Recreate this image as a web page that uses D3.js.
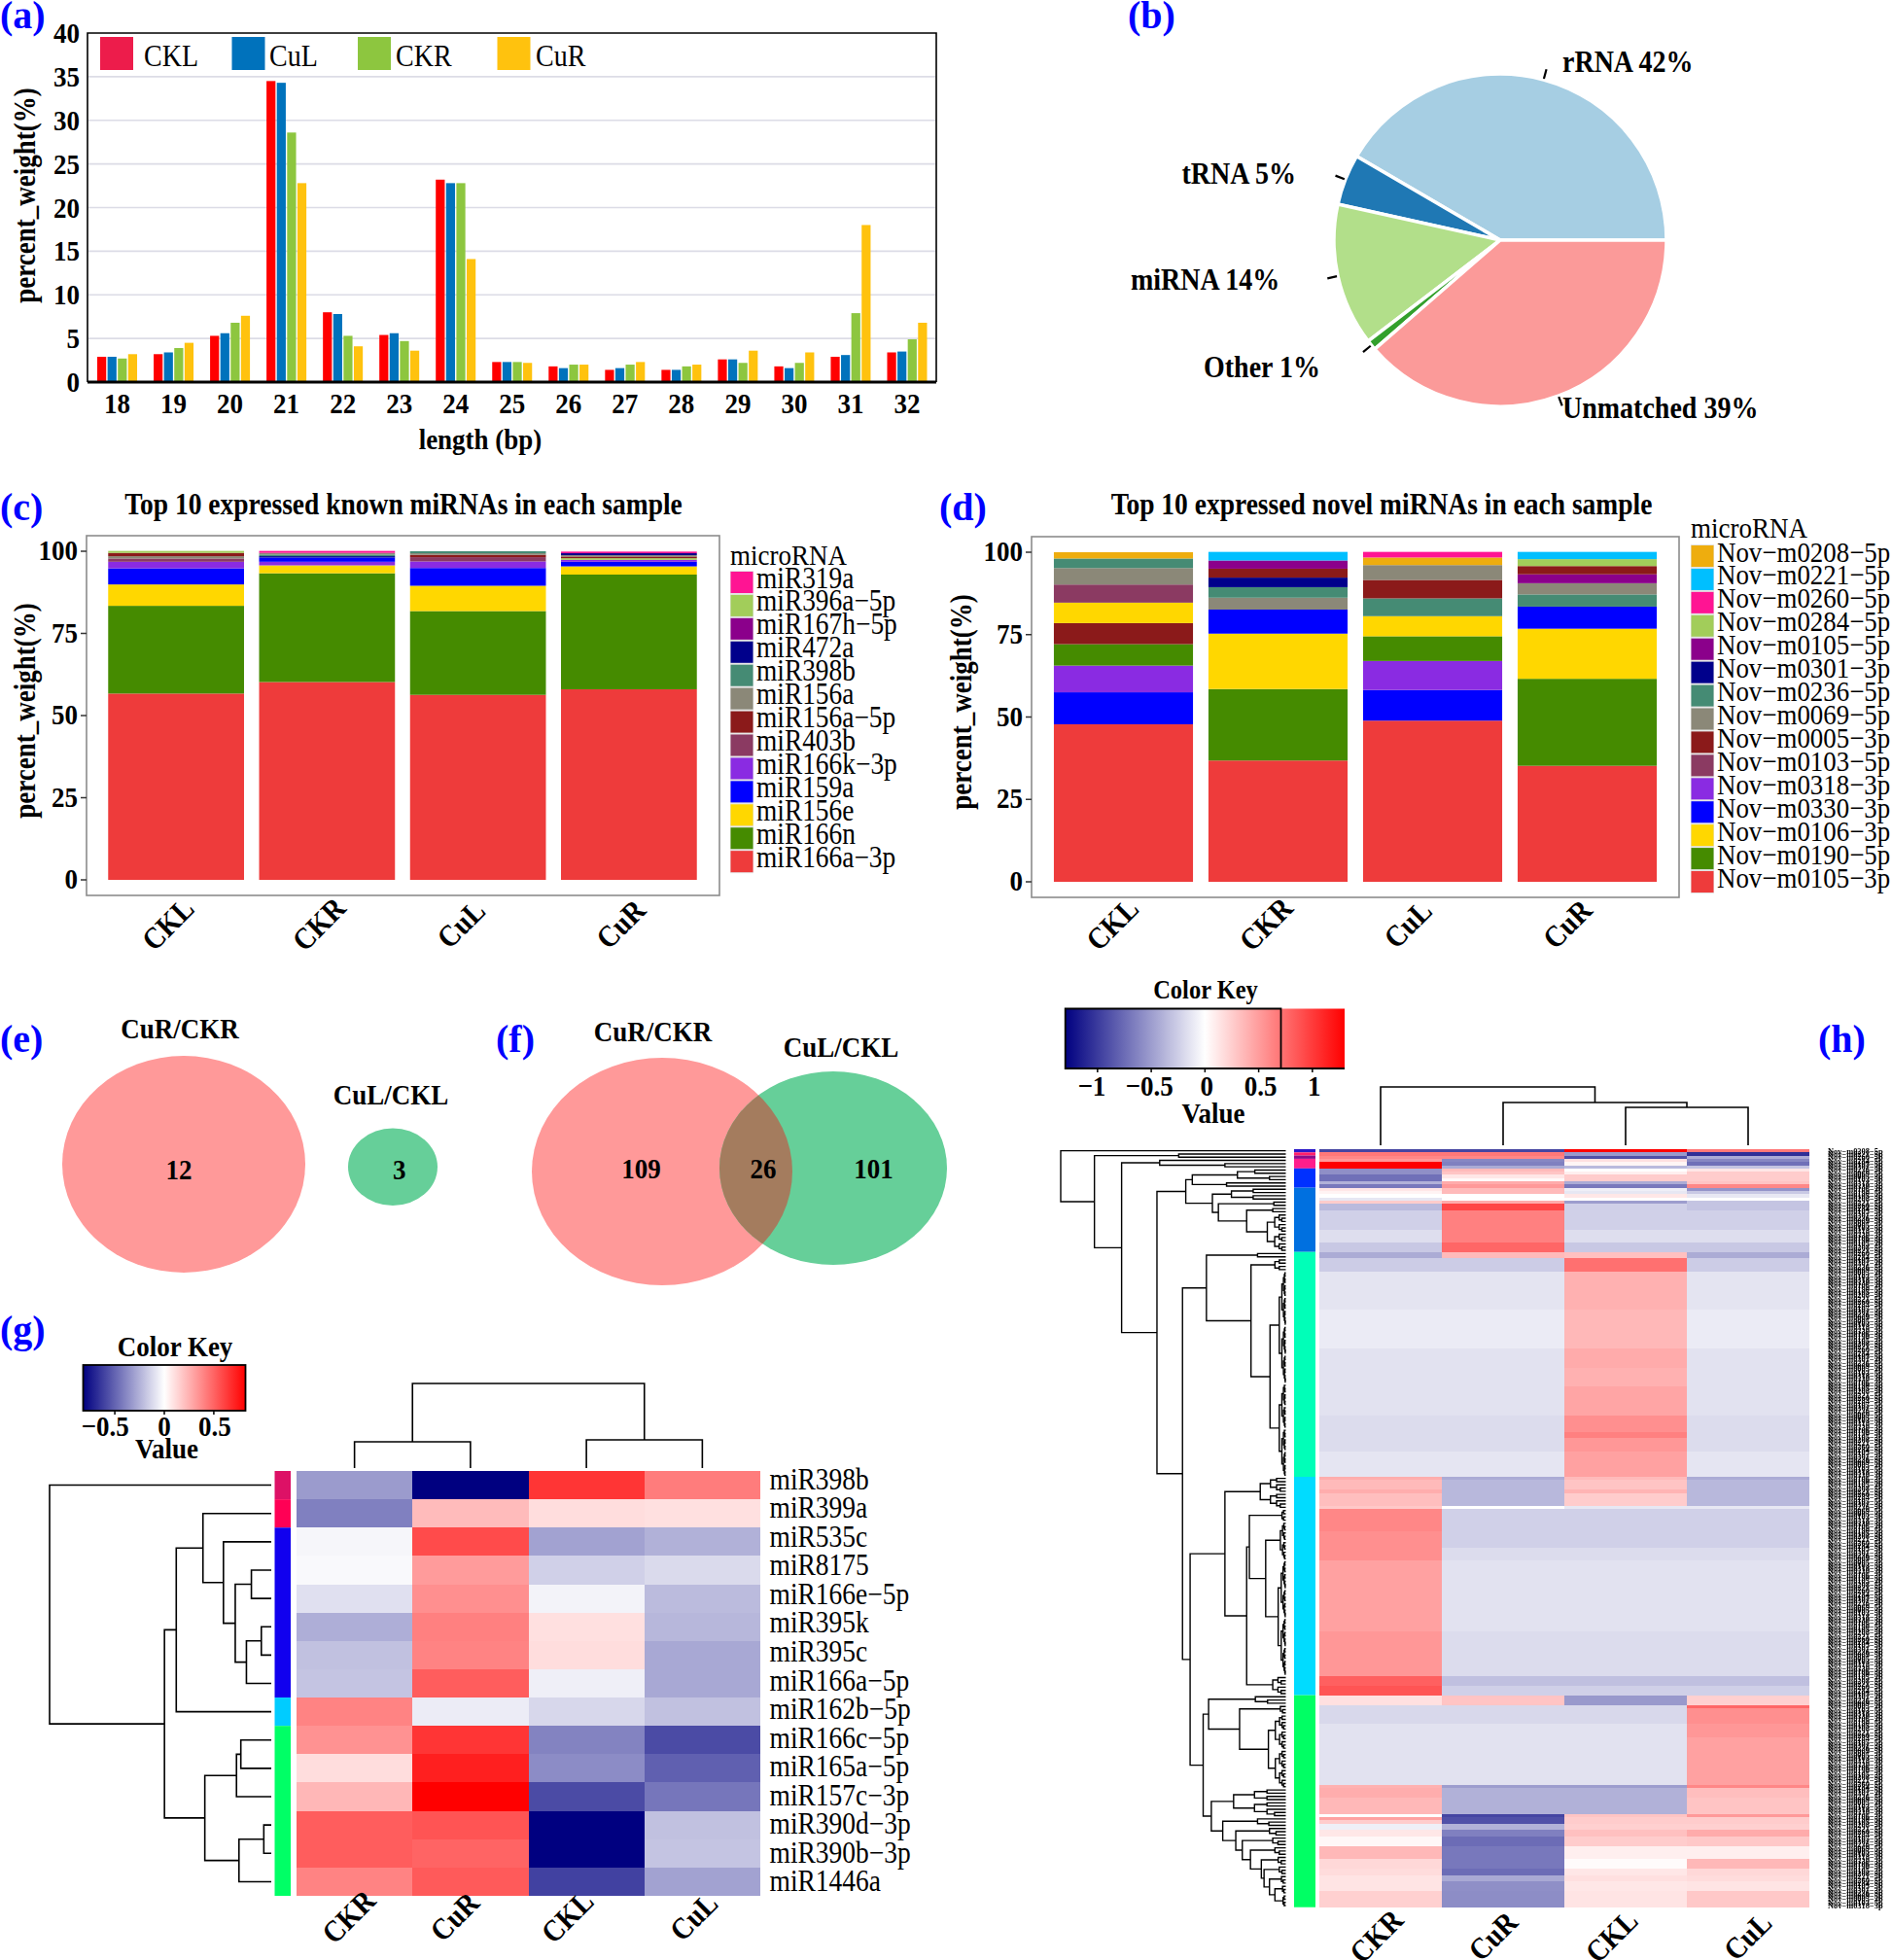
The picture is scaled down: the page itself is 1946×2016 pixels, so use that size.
<!DOCTYPE html>
<html><head><meta charset="utf-8">
<script src="https://cdn.jsdelivr.net/npm/d3@7"></script>
<style>html,body{margin:0;padding:0;background:#fff}svg{display:block}text{font-family:'Liberation Serif',serif}</style>
</head><body><svg id="c" width="1946" height="2016"></svg>
<script>
// ---------- (a) length distribution
const lengths=[18,19,20,21,22,23,24,25,26,27,28,29,30,31,32];
const groupsA=['CKL','CuL','CKR','CuR'];
const valCKL=[2.9,3.2,5.3,34.5,8.0,5.4,23.2,2.3,1.8,1.4,1.4,2.6,1.8,2.9,3.4];
const valCuL=[2.9,3.4,5.6,34.3,7.8,5.6,22.8,2.3,1.6,1.6,1.4,2.6,1.6,3.1,3.5];
const valCKR=[2.7,3.9,6.8,28.6,5.3,4.7,22.8,2.3,2.0,2.0,1.8,2.2,2.2,7.9,4.9];
const valCuR=[3.2,4.5,7.6,22.8,4.1,3.6,14.1,2.2,2.0,2.3,2.0,3.6,3.4,18.0,6.8];
const yTicksA=[0,5,10,15,20,25,30,35,40];
const barColA=['#FF0000','#0072BC','#8DC63F','#FFC20E'];
const swatchColA=['#ED1C4B','#0072BC','#8DC63F','#FFC20E'];
// ---------- (b) pie
const pieLabels=['rRNA 42%','tRNA 5%','miRNA 14%','Other 1%','Unmatched 39%'];
const pieVals=[42,5,14,1,39];
const pieCols=['#A6CEE3','#1F78B4','#B2DF8A','#33A02C','#FB9A99'];
// ---------- (c) known miRNA stacks: names bottom-to-top with values, per sample
const knownLegend=['miR319a','miR396a−5p','miR167h−5p','miR472a','miR398b','miR156a','miR156a−5p','miR403b','miR166k−3p','miR159a','miR156e','miR166n','miR166a−3p'];
const knownCols=['#FF1493','#A2CD5A','#8B008B','#00008B','#458B74','#8B8878','#8B1A1A','#8B3A62','#8A2BE2','#0000FF','#FFD700','#458B00','#EE3B3B'];
const samplesC=['CKL','CKR','CuL','CuR'];
const kCKLn=['miR166a−3p','miR166n','miR156e','miR159a','miR166k−3p','miR403b','miR156a','miR156a−5p','miR396a−5p'];
const kCKLv=[56.7,26.7,6.5,4.9,2.0,1.0,0.7,1.0,0.6];
const kCKRn=['miR166a−3p','miR166n','miR156e','miR166k−3p','miR159a','miR472a','miR398b','miR156a','miR319a'];
const kCKRv=[60.2,33.1,2.4,1.1,1.3,0.4,0.5,0.5,0.6];
const kCuLn=['miR166a−3p','miR166n','miR156e','miR159a','miR166k−3p','miR403b','miR156a−5p','miR156a','miR398b'];
const kCuLv=[56.3,25.5,7.7,5.4,2.0,1.3,0.7,0.5,0.6];
const kCuRn=['miR166a−3p','miR166n','miR156e','miR159a','miR166k−3p','miR396a−5p','miR156a−5p','miR156a','miR472a','miR319a'];
const kCuRv=[58.0,34.9,2.5,1.4,0.6,0.5,0.5,0.4,0.6,0.5];
// ---------- (d) novel miRNA stacks
const novelLegend=['Nov−m0208−5p','Nov−m0221−5p','Nov−m0260−5p','Nov−m0284−5p','Nov−m0105−5p','Nov−m0301−3p','Nov−m0236−5p','Nov−m0069−5p','Nov−m0005−3p','Nov−m0103−5p','Nov−m0318−3p','Nov−m0330−3p','Nov−m0106−3p','Nov−m0190−5p','Nov−m0105−3p'];
const novelCols=['#EEAD0E','#00BFFF','#FF1493','#A2CD5A','#8B008B','#00008B','#458B74','#8B8878','#8B1A1A','#8B3A62','#8A2BE2','#0000FF','#FFD700','#458B00','#EE3B3B'];
const nCKLn=[14,11,10,13,8,12,9,7,6,0];
const nCKLv=[47.8,9.7,8.1,6.5,6.4,6.2,5.5,5.0,2.9,1.9];
const nCKRn=[14,13,12,11,7,6,5,8,4,1];
const nCKRv=[36.8,21.7,16.8,7.3,3.6,3.2,2.9,2.7,2.5,2.6];
const nCuLn=[14,11,10,13,12,6,8,7,0,2];
const nCuLv=[48.9,9.3,8.8,7.5,6.1,5.4,5.6,4.5,2.3,1.7];
const nCuRn=[14,13,12,11,6,7,4,8,3,1];
const nCuRv=[35.2,26.4,15.2,6.7,3.7,3.4,2.7,2.5,2.1,2.2];
const yTicksStack=[0,25,50,75,100];
// ---------- (e)(f) Venn counts
const vennE=[12,3];
const vennF=[109,26,101];
// ---------- (g) heat map
const gRows=['miR398b','miR399a','miR535c','miR8175','miR166e−5p','miR395k','miR395c','miR166a−5p','miR162b−5p','miR166c−5p','miR165a−5p','miR157c−3p','miR390d−3p','miR390b−3p','miR1446a'];
const gCols=['CKR','CuR','CKL','CuL'];
const gCKR=[-.32,-.41,-.03,-.02,-.10,-.26,-.20,-.19,.40,.35,.11,.23,.52,.52,.40];
const gCuR=[-.82,.22,.58,.32,.36,.41,.40,.52,-.06,.65,.72,.82,.55,.50,.53];
const gCKL=[.65,.11,-.30,-.15,-.04,.10,.11,-.05,-.13,-.40,-.37,-.58,-.82,-.82,-.61];
const gCuL=[.42,.10,-.25,-.12,-.22,-.23,-.28,-.28,-.20,-.58,-.51,-.44,-.20,-.19,-.30];
const gLimit=.82, gKeyTicks=[-.5,0,.5];
const gSideCounts=[1,1,6,1,6];
const gSideCols=['#DD1166','#FF0055','#1100EE','#00CCFF','#00FF66'];
// dendrograms: a node is [height, childA, childB]; 0 is a leaf; [height, n] is a tight cluster of n leaves
const gTreeLeft=[357,0,[172,[153,[110,0,[77,0,[58,[32,0,0],[40,[16,0,0],0]]]],0],[107,[56,[49,0,0],0],[52,[12,0,0],0]]]];
const gTreeTop=[87,[27,0,0],[29,0,0]];
// ---------- (h) heat map, run-length rows
const hCols=['CKR','CuR','CKL','CuL'];
const hRun=[1,1,1,1,1,1,1,1,1,1,1,1,1,1,1,1,1,2,6,4,3, 2,4,12,12,6,6,9,5,2,4,8, 1,3,1,4,1,7,5,4,22,14,3,3, 3,1,5,4,15,1,3,5, 1,1,1,2,2,3,4,3,2,2,3,5];
const hCKR=[-.95,.69,.61,.52,1.3,1.3,-.57,-.57,-.73,-.73,-.40,-.69,.12,.06,0,-.12,.26,-.35,-.24,-.17,-.28, -.43,-.26,-.14,-.10,-.15,-.15,-.15,-.18,-.18,-.18,-.13, .42,.35,.42,.33,.28,.61,.57,.57,.48,.53,.81,.87, .16,-.20,-.20,-.15,-.15,.40,.42,.36, 0,.48,.26,-.08,.12,.04,.36,.20,.18,.14,.14,.24];
const hCuR=[-.95,.69,.61,-.61,-.65,-.43,.35,.30,.13,.03,.43,.52,.35,.35,0,0,.43,.95,.65,.65,.78, .35,-.26,-.14,-.10,-.15,-.15,-.15,-.18,-.18,-.18,-.13, -.43,-.36,-.36,-.36,0,-.24,-.24,-.18,-.15,-.18,-.32,-.24, .30,-.20,-.20,-.15,-.15,-.50,-.40,-.40, -.95,-.89,-.89,-.40,-.65,-.75,-.69,-.69,-.75,-.44,-.57,-.58];
const hCKL=[1.3,-.52,-.89,.16,.05,-.35,0,.08,.26,.26,-.43,-.69,-.08,-.12,.12,0,-.50,-.24,-.24,-.17,-.28, .32,.73,.40,.36,.43,.40,.46,.57,.65,.53,.48, .35,.30,.38,.26,-.12,-.24,-.24,-.18,-.15,-.18,-.32,-.24, -.52,-.20,-.20,-.15,-.15,-.50,-.40,-.40, .30,.26,.26,.24,.32,.26,.08,.02,.12,.16,.12,.14];
const hCuL=[.69,-1.06,-.43,-.61,-.73,-.30,.12,.26,.26,.26,.30,.61,-.55,-.28,-.12,0,-.30,-.30,-.24,-.17,-.28, -.43,-.26,-.14,-.10,-.15,-.15,-.15,-.18,-.18,-.18,-.13, -.43,-.36,-.36,-.36,-.12,-.24,-.24,-.18,-.15,-.18,-.32,-.24, .24,.78,.57,.53,.48,.61,.33,.30, .52,.26,.26,.24,.43,.28,.08,.36,.20,.18,.14,.28];
const hLimit=1.3, hKeyTicks=[-1,-.5,0,.5,1];
const hSideCounts=[1,1,1,3,6,20,70,68,66];
const hSideCols=['#2A18C8','#FF1F6B','#8B0A8B','#FF1E8C','#0030FF','#0070E0','#00FFB8','#00DCFF','#00FF64'];
const hTreeTop=[60,0,[44,0,[39,0,0]]];
const hTreeLeft=[414,0,[352,[197,0,0],[302,[232,0,[112,0,0]],[237,
  [184,[172,[89,[57,2],[30,2]],[109,2]],[135,[100,4],[124,[22,2],[72,[24,2],[34,12]]]]],
  [190,[146,[52,2],[64,[20,4],[29,[12,35],[12,29]]]],
    [176,[112,[47,10],[72,[67,[7,4],[37,[10,12],[14,36]]],[24,6]]],
      [152,[142,[56,3],[85,[10,3],[32,23]]],
        [137,[96,9],[116,[52,3],[92,[30,3],[80,[24,3],[65,[20,3],[45,[14,3],[40,[12,3],[30,[8,3],[20,[6,3],[5,4]]]]]]]]]]]]]]]]];
// row labels of (h) cannot be read in the picture; the IDs legible in panel (d) stand in for them
const hLabelIds=novelLegend;

// ---------- helpers
const svg=d3.select('#c');
// glyphs in the reference are slightly taller than wide, hence the stretch s
function T(g,x,y,s,o={}){const st=o.s===undefined?1.12:o.s;
  return g.append('text').text(s).attr('transform',`translate(${x},${y}) rotate(${o.rot||0}) scale(1,${st})`)
  .attr('font-size',o.size||27).attr('font-weight',o.w||'bold').attr('text-anchor',o.a||'start').attr('fill',o.fill||'#000');}
function letter(x,y,s){T(svg,x,y,s,{size:40,fill:'#0000FF',s:1});}
function yLabel(x,cy){T(svg,x,cy,'percent_weight(%)',{size:27,a:'middle',rot:-90,s:1.15});}
function buildTree(node,counter){
  if(node===0)return {h:0,pos:counter.i++,kids:[]};
  if(node.length===2){
    const expand=(h,n)=>n===1?0:[h,expand(h*.6,Math.floor(n/2)),expand(h*.6,Math.ceil(n/2))];
    return buildTree(expand(node[0],node[1]),counter);
  }
  const a=buildTree(node[1],counter),b=buildTree(node[2],counter);
  return {h:node[0],pos:(a.pos+b.pos)/2,kids:[a,b]};
}
function walk(n,f){f(n);n.kids.forEach(k=>walk(k,f));}
function drawTree(spec,posScale,hScale,vertical,sw){
  const root=buildTree(spec,{i:0});const g=svg.append('g').attr('fill','none').attr('stroke','#000').attr('stroke-width',sw||1.6);
  walk(root,n=>{ if(!n.kids.length)return; const [a,b]=n.kids;
    const p=d3.path();
    if(!vertical){p.moveTo(hScale(a.h),posScale(a.pos));p.lineTo(hScale(n.h),posScale(a.pos));p.lineTo(hScale(n.h),posScale(b.pos));p.lineTo(hScale(b.h),posScale(b.pos));}
    else{p.moveTo(posScale(a.pos),hScale(a.h));p.lineTo(posScale(a.pos),hScale(n.h));p.lineTo(posScale(b.pos),hScale(n.h));p.lineTo(posScale(b.pos),hScale(b.h));}
    g.append('path').attr('d',p.toString());
  });
}
let gradId=0;
function colorKey(x0,x1,y0,y1,limit,scale,ticks,tickBase,labelDx){
  const id='grad'+(gradId++);
  const grad=svg.append('defs').append('linearGradient').attr('id',id);
  [-1,0,1].forEach((f,i)=>grad.append('stop').attr('offset',(i*50)+'%').attr('stop-color',scale(f*limit)));
  svg.append('rect').attr('x',x0).attr('y',y0).attr('width',x1-x0).attr('height',y1-y0).attr('fill',`url(#${id})`);
  const k=d3.scaleLinear([-limit,limit],[x0,x1]);
  const ax=svg.append('g');
  ticks.forEach((t,i)=>{ax.append('line').attr('x1',k(t)).attr('x2',k(t)).attr('y1',y1).attr('y2',y1+4).attr('stroke','#000').attr('stroke-width',1.5);
    T(ax,k(t)+labelDx[i],tickBase,String(t).replace('-','−'),{a:'middle',size:27});});
  return k;
}
function sideBar(counts,cols,x0,x1,rowY){
  let s=0;counts.forEach((n,i)=>{svg.append('rect').attr('x',x0).attr('width',x1-x0).attr('y',rowY(s)).attr('height',rowY(s+n)-rowY(s)).attr('fill',cols[i]);s+=n;});
}
function tickRot(x,y,s){T(svg,x,y,s,{a:'middle',rot:-45,size:28});}

// ---------- (a)
letter(0,29,'(a)');
{
 const x=d3.scaleBand(lengths,[91.5,962]);const y=d3.scaleLinear([0,40],[393,34]);
 const inner=d3.scaleBand(groupsA,[-20.5,20.5]).paddingInner(.13);
 const series=[valCKL,valCuL,valCKR,valCuR];
 const g=svg.append('g');
 g.selectAll('.grid').data(yTicksA.slice(1,-1)).join('line').attr('x1',91).attr('x2',962).attr('y1',y).attr('y2',y).attr('stroke','#DCDCE6').attr('stroke-width',1.6);
 series.forEach((vals,si)=>{
  g.append('g').selectAll('rect').data(vals).join('rect')
   .attr('x',(v,i)=>x(lengths[i])+x.bandwidth()/2+inner(groupsA[si])).attr('width',inner.bandwidth())
   .attr('y',v=>y(v)).attr('height',v=>y(0)-y(v)).attr('fill',barColA[si]);
 });
 g.append('path').attr('d','M90,393 V34 H963 V393').attr('fill','none').attr('stroke','#000').attr('stroke-width',1.6);
 g.append('line').attr('x1',90).attr('x2',963).attr('y1',393).attr('y2',393).attr('stroke','#000').attr('stroke-width',3);
 yTicksA.forEach(t=>T(g,82,y(t)+10,t,{a:'end'}));
 lengths.forEach(l=>T(g,x(l)+x.bandwidth()/2,425,l,{a:'middle'}));
 T(g,494,462,'length (bp)',{a:'middle'});
 yLabel(36,201);
 const lx=[103,238.5,368,511.5], tx=[148,277,407,551];
 groupsA.forEach((n,i)=>{g.append('rect').attr('x',lx[i]).attr('y',38).attr('width',34).attr('height',34).attr('fill',swatchColA[i]);
   T(g,tx[i],67.5,n,{w:'normal',size:28});});
}
// ---------- (b)
letter(1160,29,'(b)');
{
 const g=svg.append('g').attr('transform','translate(1543,247)');
 const pie=d3.pie().sort(null).startAngle(Math.PI/2).endAngle(Math.PI/2-2*Math.PI)(pieVals);
 const arc=d3.arc().innerRadius(0).outerRadius(171);
 g.selectAll('path').data(pie).join('path').attr('d',arc).attr('fill',(d,i)=>pieCols[i]).attr('stroke','#fff').attr('stroke-width',3.5);
 pie.forEach(d=>{const m=(d.startAngle+d.endAngle)/2;
  g.append('line').attr('x1',Math.sin(m)*172).attr('y1',-Math.cos(m)*172).attr('x2',Math.sin(m)*182).attr('y2',-Math.cos(m)*182).attr('stroke','#000').attr('stroke-width',2.2);});
 const lp=[[1607,74],[1215.5,189],[1163,298],[1238,388],[1607,430]];
 pieLabels.forEach((s,i)=>T(svg,lp[i][0],lp[i][1],s,{size:28}));
}
// ---------- stacked panels
function stacked(o){
 const x=d3.scaleBand(samplesC,o.xr).paddingInner(.1).paddingOuter(.05);
 const y=d3.scaleLinear([0,100],o.yr);
 const g=svg.append('g');
 g.append('rect').attr('x',o.box[0]).attr('y',o.box[1]).attr('width',o.box[2]-o.box[0]).attr('height',o.box[3]-o.box[1]).attr('fill','#fff').attr('stroke','#8C8C8C').attr('stroke-width',1.6);
 o.data.forEach((s,si)=>{
  let c=0;s[1].forEach((v,i)=>{const col=o.colorOf(s[0][i]);
   g.append('rect').attr('x',x(samplesC[si])).attr('width',x.bandwidth()).attr('y',y(c+v)).attr('height',y(c)-y(c+v)).attr('fill',col);c+=v;});
 });
 yTicksStack.forEach(t=>{g.append('line').attr('x1',o.box[0]-6).attr('x2',o.box[0]).attr('y1',y(t)).attr('y2',y(t)).attr('stroke','#333').attr('stroke-width',1.5);
   T(g,o.box[0]-9,y(t)+9,t,{a:'end'});});
 samplesC.forEach((s,i)=>tickRot(x(s)+x.bandwidth()/2+o.tickDx[i],o.tickY,s));
 T(g,o.titleX,529,o.title,{a:'middle',size:27.5});
 T(g,o.legX,o.legTitleY,'microRNA',{w:'normal'});
 o.legend.forEach((n,i)=>{const yy=o.legY+i*23.93;
  g.append('rect').attr('x',o.legX).attr('y',yy-1).attr('width',24).attr('height',24).attr('fill','#E3E3E3');
  g.append('rect').attr('x',o.legX+.5).attr('y',yy).attr('width',23).attr('height',22).attr('fill',o.legCols[i]);
  T(g,o.legX+27,yy+16.5,n,{w:'normal',size:o.legSize});});
}
letter(0,535,'(c)');
stacked({xr:[103.5,724.5],yr:[905,567],box:[89,551,740,921],tickDx:[-1,-1,-10,-1],tickY:958,title:'Top 10 expressed known miRNAs in each sample',titleX:415,
 legX:751,legTitleY:581,legY:588,legSize:27.4,legend:knownLegend,legCols:knownCols,
 colorOf:n=>knownCols[knownLegend.indexOf(n)],
 data:[[kCKLn,kCKLv],[kCKRn,kCKRv],[kCuLn,kCuLv],[kCuRn,kCuRv]]});
yLabel(36,731);
letter(966,535,'(d)');
stacked({xr:[1076,1712],yr:[907,568],box:[1061,552,1727,923],tickDx:[-4,-5,-18,-13],tickY:958,title:'Top 10 expressed novel miRNAs in each sample',titleX:1421,
 legX:1739,legTitleY:553,legY:561,legSize:26.9,legend:novelLegend,legCols:novelCols,
 colorOf:i=>novelCols[i],
 data:[[nCKLn,nCKLv],[nCKRn,nCKRv],[nCuLn,nCuLv],[nCuRn,nCuRv]]});
yLabel(999,722);
// ---------- (e) (f)
const PINK='#FF9999',GREEN='#66CF99',BROWN='#A47C5E';
letter(0,1082,'(e)');
svg.append('ellipse').attr('cx',189).attr('cy',1197.5).attr('rx',125).attr('ry',111.5).attr('fill',PINK);
svg.append('ellipse').attr('cx',404).attr('cy',1200.3).attr('rx',46).attr('ry',39.7).attr('fill',GREEN);
T(svg,184,1212.7,vennE[0],{a:'middle'});T(svg,410.7,1212.7,vennE[1],{a:'middle'});
T(svg,185,1067.7,'CuR/CKR',{a:'middle'});T(svg,402,1135.7,'CuL/CKL',{a:'middle'});
letter(510,1082,'(f)');
svg.append('defs').append('clipPath').attr('id','vennClip').append('ellipse').attr('cx',681).attr('cy',1205).attr('rx',134).attr('ry',117);
svg.append('ellipse').attr('cx',681).attr('cy',1205).attr('rx',134).attr('ry',117).attr('fill',PINK);
svg.append('ellipse').attr('cx',857).attr('cy',1201.5).attr('rx',117).attr('ry',99.5).attr('fill',GREEN);
svg.append('ellipse').attr('cx',857).attr('cy',1201.5).attr('rx',117).attr('ry',99.5).attr('fill',BROWN).attr('clip-path','url(#vennClip)');
T(svg,659.5,1211.7,vennF[0],{a:'middle'});T(svg,785,1211.7,vennF[1],{a:'middle'});T(svg,898.6,1211.7,vennF[2],{a:'middle'});
T(svg,671.6,1071,'CuR/CKR',{a:'middle'});T(svg,865,1086.7,'CuL/CKL',{a:'middle'});
// ---------- (g)
letter(0,1381,'(g)');
{
 const col=d3.scaleLinear([-gLimit,0,gLimit],['#000080','#FFFFFF','#FF0000']);
 const x=d3.scaleBand(gCols,[305,782]);const yb=d3.scaleBand(gRows,[1513,1950]);
 const rowY=d3.scaleLinear([0,gRows.length],[1513,1950]);
 const labelY=d3.scaleLinear([0,gRows.length],[1509,1952]);
 [gCKR,gCuR,gCKL,gCuL].forEach((vals,c)=>{
  svg.append('g').attr('shape-rendering','crispEdges').selectAll('rect').data(vals).join('rect')
   .attr('x',x(gCols[c])).attr('width',x.bandwidth()).attr('y',(v,i)=>yb(gRows[i])).attr('height',yb.bandwidth()).attr('fill',v=>col(v));
 });
 sideBar(gSideCounts,gSideCols,282.5,299,rowY);
 gRows.forEach((r,i)=>T(svg,791.5,labelY(i+.5)+8,r,{w:'normal',size:27.5}));
 drawTree(gTreeLeft,i=>rowY(i+.5),d3.scaleLinear([0,357],[279,51]),false);
 const colPos=d3.scaleLinear([0,gCols.length],[305,782]);
 drawTree(gTreeTop,i=>colPos(i+.5),d3.scaleLinear([0,87],[1510,1423]),true);
 colorKey(85.5,252.5,1404,1451,gLimit,col,gKeyTicks,1477,[-10,0,1]);
 svg.append('rect').attr('x',85.5).attr('y',1404).attr('width',167).attr('height',47).attr('fill','none').attr('stroke','#000').attr('stroke-width',1.8);
 T(svg,180,1395,'Color Key',{a:'middle'});T(svg,171.5,1500,'Value',{a:'middle'});
 const dx=[366,475,591,721];
 gCols.forEach((c,i)=>tickRot(dx[i],1979,c));
}
// ---------- (h)
letter(1870,1082,'(h)');
{
 const col=d3.scaleLinear([-hLimit,0,hLimit],['#000080','#FFFFFF','#FF0000']);
 const x=d3.scaleBand(hCols,[1357,1861]);
 const total=d3.sum(hRun);
 const rowY=d3.scaleLinear([0,total],[1182,1961.7]);
 [hCKR,hCuR,hCKL,hCuL].forEach((vals,c)=>{
  let s=0;const g=svg.append('g').attr('shape-rendering','crispEdges');
  vals.forEach((v,i)=>{g.append('rect').attr('x',x(hCols[c])).attr('width',x.bandwidth()).attr('y',rowY(s)).attr('height',rowY(s+hRun[i])-rowY(s)).attr('fill',col(v));s+=hRun[i];});
 });
 sideBar(hSideCounts,hSideCols,1331,1353,rowY);
 const lg=svg.append('g').style('filter','grayscale(1)');
 d3.range(total).forEach(i=>T(lg,1880,rowY(i+.5)+3,hLabelIds[i%hLabelIds.length],{size:8.4,s:1}));
 drawTree(hTreeLeft,i=>rowY(i+.5),d3.scaleLinear([0,414],[1322.5,1091]),false,1.4);
 const colPos=d3.scaleLinear([0,hCols.length],[1357,1861]);
 drawTree(hTreeTop,i=>colPos(i+.5),d3.scaleLinear([0,60],[1178,1118]),true);
 colorKey(1095.7,1383,1037.5,1099,hLimit,col,hKeyTicks,1127,[-6,-2,2,2,2]);
 svg.append('path').attr('d','M1383,1099 H1095.7 V1037.5 H1317.5 V1099').attr('fill','none').attr('stroke','#000').attr('stroke-width',1.8);
 T(svg,1240,1027,'Color Key',{a:'middle',size:24.5});T(svg,1248,1155,'Value',{a:'middle'});
 const dx=[1423,1543,1665,1805];
 hCols.forEach((c,i)=>tickRot(dx[i],1999,c));
}
</script></body></html>
